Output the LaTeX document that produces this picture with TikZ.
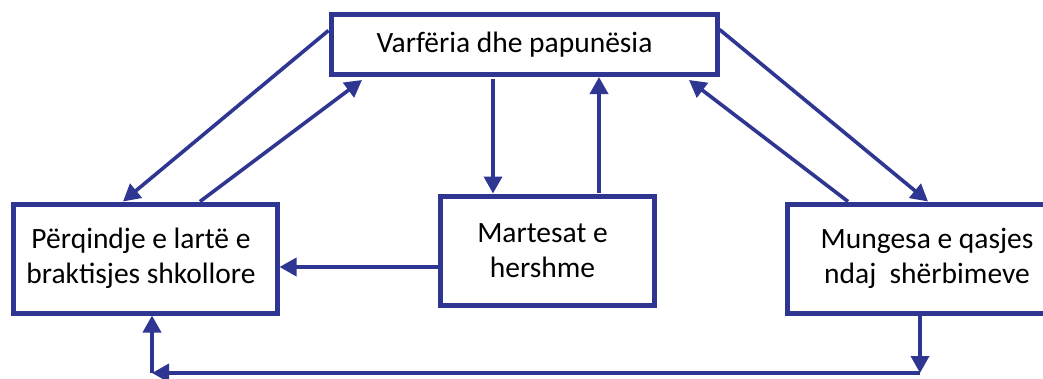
\documentclass[tikz,border=0pt]{standalone}
\usepackage{fontspec}
\setmainfont{Carlito}
\usetikzlibrary{arrows.meta}
\definecolor{dblue}{RGB}{46,54,146}
\begin{document}
\begin{tikzpicture}[x=1pt,y=-1pt,
  box/.style={draw=dblue,line width=5pt,inner sep=0pt,align=center,
    font=\fontsize{29.5}{35}\selectfont,text=black},
  conn/.style={draw=dblue,line width=3.6pt,-{Triangle[length=17pt,width=18pt]}}]
\useasboundingbox (0,0) rectangle (1043,378);
\fill[white] (0,0) rectangle (1043,378);
\node[box,minimum width=386pt,minimum height=60pt] (top) at (524,44.5) {Varfëria dhe papunësia\hspace*{19pt}};
\node[box,minimum width=264pt,minimum height=109pt] (left) at (145,258.5) {Përqindje e lartë e\hspace*{8pt}\\braktisjes shkollore\hspace*{8pt}};
\node[box,minimum width=214pt,minimum height=109pt] (mid) at (547,250.5) {Martesat e\hspace*{9pt}\\hershme\hspace*{9pt}};
\node[box,minimum width=280pt,minimum height=109pt] (right) at (927,258.5) {Mungesa e qasjes\\ndaj\ \ shërbimeve};
\coordinate (br) at (920,373);
\coordinate (bl) at (152,373);
\draw[conn] ([yshift=14pt]top.west) -- ([xshift=-22pt]left.north);
\draw[conn] ([xshift=55pt]left.north) -- ([xshift=-162pt,yshift=-3pt]top.south);
\draw[conn] ([xshift=-31pt,yshift=-2pt]top.south) -- ([xshift=-54pt]mid.north);
\draw[conn] ([xshift=52pt,yshift=1pt]mid.north) -- ([xshift=75pt]top.south);
\draw[conn] ([yshift=-16.5pt]mid.west) -- ([yshift=-8.5pt]left.east);
\draw[conn] ([yshift=15pt]top.east) -- ([xshift=1pt]right.north);
\draw[conn] ([xshift=-79pt]right.north) -- ([xshift=165pt,yshift=-3pt]top.south);
\draw[conn] ([xshift=-7pt]right.south) -- (br);
\draw[conn] (br) -- (bl);
\draw[conn] (bl) -- ([xshift=7pt]left.south);
\end{tikzpicture}
\end{document}
